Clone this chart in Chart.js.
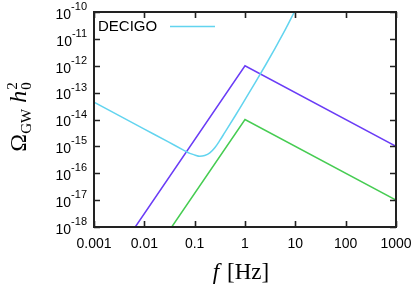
<!DOCTYPE html>
<html>
<head>
<meta charset="utf-8">
<script src="https://cdn.jsdelivr.net/npm/chart.js@4.4.1/dist/chart.umd.min.js"></script>
<style>
  html, body { margin: 0; padding: 0; background: #fff; }
  canvas { display: block; }
</style>
</head>
<body>
<canvas id="chart" width="416" height="289"></canvas>
<script>
// Axis ticks (log-log, decades only)
const xTicks = [0.001, 0.01, 0.1, 1, 10, 100, 1000];
const xTickLabels = ['0.001', '0.01', '0.1', '1', '10', '100', '1000'];
const yTicks = [1e-18, 1e-17, 1e-16, 1e-15, 1e-14, 1e-13, 1e-12, 1e-11, 1e-10];
const yTickExponents = ['-18', '-17', '-16', '-15', '-14', '-13', '-12', '-11', '-10'];

// DECIGO sensitivity curve
const decigoFreq  = [0.001, 0.01, 0.03, 0.06, 0.08, 0.1, 0.126, 0.158, 0.2, 0.251, 0.316, 0.398, 0.631, 1.0, 1.585, 2.512, 3.981, 6.31, 9.55];
const decigoOmega = [4.4e-14, 4.4e-15, 1.47e-15, 7.3e-16, 5.5e-16, 4.8e-16, 4.27e-16, 4.57e-16, 5.75e-16, 8.9e-16, 1.66e-15, 3.31e-15, 1.32e-14, 5.5e-14, 2.29e-13, 1.0e-12, 4.57e-12, 2.19e-11, 1.0e-10];

// Broken power-law spectra (upper and lower)
const upperFreq  = [0.0066, 1, 1000];
const upperOmega = [1e-18, 1e-12, 1e-15];
const lowerFreq  = [0.035, 1, 1000];
const lowerOmega = [1e-18, 1e-14, 1e-17];

const legendLabel = 'DECIGO';

const CYAN = '#62d4ef';
const PURPLE = '#6a3cf6';
const GREEN = '#46cc52';
const AXIS = '#222';

function toPoints(xs, ys) {
  return xs.map((x, i) => ({ x, y: ys[i] }));
}

// gnuplot-like frame, inward ticks, labels, legend and titles
const framePlugin = {
  id: 'frame',
  afterDraw(chart) {
    const { ctx, chartArea: a, scales } = chart;
    const xs = scales.x, ys = scales.y;
    const tick = 6;

    ctx.save();
    ctx.strokeStyle = AXIS;
    ctx.lineWidth = 2;
    ctx.strokeRect(a.left, a.top, a.right - a.left, a.bottom - a.top);

    ctx.lineWidth = 1.6;
    ctx.beginPath();
    xTicks.forEach(v => {
      const px = Math.round(xs.getPixelForValue(v)) + 0.5;
      ctx.moveTo(px, a.bottom); ctx.lineTo(px, a.bottom - tick);
      ctx.moveTo(px, a.top); ctx.lineTo(px, a.top + tick);
    });
    yTicks.forEach(v => {
      const py = Math.round(ys.getPixelForValue(v)) + 0.5;
      ctx.moveTo(a.left, py); ctx.lineTo(a.left + tick, py);
      ctx.moveTo(a.right, py); ctx.lineTo(a.right - tick, py);
    });
    ctx.stroke();

    // x tick labels
    ctx.fillStyle = '#000';
    ctx.font = '14px "Liberation Sans", Arial, sans-serif';
    ctx.textAlign = 'center';
    ctx.textBaseline = 'middle';
    xTicks.forEach((v, i) => {
      ctx.fillText(xTickLabels[i], xs.getPixelForValue(v), a.bottom + 17);
    });

    // y tick labels: 10 with superscript exponent
    yTicks.forEach((v, i) => {
      const py = ys.getPixelForValue(v);
      ctx.font = '11px "Liberation Sans", Arial, sans-serif';
      ctx.textAlign = 'right';
      ctx.textBaseline = 'middle';
      const expW = ctx.measureText(yTickExponents[i]).width;
      ctx.fillText(yTickExponents[i], a.left - 7, py - 5);
      ctx.font = '14px "Liberation Sans", Arial, sans-serif';
      ctx.fillText('10', a.left - 7 - expW, py + 3);
    });

    // legend: text then line sample
    ctx.font = '15px "Liberation Sans", Arial, sans-serif';
    ctx.textAlign = 'left';
    ctx.textBaseline = 'middle';
    ctx.fillText(legendLabel, a.left + 4, a.top + 15);
    ctx.strokeStyle = CYAN;
    ctx.lineWidth = 1.5;
    ctx.beginPath();
    ctx.moveTo(a.left + 76, a.top + 14.5);
    ctx.lineTo(a.left + 121, a.top + 14.5);
    ctx.stroke();

    // x title: f [Hz]
    const serif = '"Liberation Serif", "DejaVu Serif", serif';
    ctx.fillStyle = '#000';
    ctx.textBaseline = 'alphabetic';
    ctx.textAlign = 'left';
    ctx.font = 'italic 23px ' + serif;
    const fW = ctx.measureText('f').width;
    ctx.font = '23px ' + serif;
    const restW = ctx.measureText(' [Hz]').width;
    let x0 = (a.left + a.right) / 2 - 5 - (fW + restW) / 2;
    ctx.font = 'italic 23px ' + serif;
    ctx.fillText('f', x0, 279);
    ctx.font = '23px ' + serif;
    ctx.fillText(' [Hz]', x0 + fW + 2, 279);

    // y title: Omega_GW h_0^2, rotated
    const parts = [
      { t: '\u03A9', f: '24px ' + serif, dy: 0 },
      { t: 'GW', f: '15px ' + serif, dy: 5 },
      { t: ' ', f: '24px ' + serif, dy: 0 },
      { t: 'h', f: 'italic 24px ' + serif, dy: 0 }
    ];
    let total = 0;
    parts.forEach(p => { ctx.font = p.f; p.w = ctx.measureText(p.t).width; total += p.w; });
    ctx.font = '15px ' + serif;
    const scriptW = ctx.measureText('2').width;
    total += scriptW + 1;

    ctx.translate(26, 117);
    ctx.rotate(-Math.PI / 2);
    let cx = -total / 2;
    parts.forEach(p => {
      ctx.font = p.f;
      ctx.fillText(p.t, cx, p.dy);
      cx += p.w;
    });
    ctx.font = '15px ' + serif;
    ctx.fillText('2', cx + 1, -9);
    ctx.fillText('0', cx + 1, 5);
    ctx.restore();
  }
};

new Chart(document.getElementById('chart'), {
  type: 'line',
  data: {
    datasets: [
      {
        label: legendLabel,
        data: toPoints(decigoFreq, decigoOmega),
        borderColor: CYAN,
        borderWidth: 1.5,
        pointRadius: 0,
        cubicInterpolationMode: 'monotone',
        fill: false
      },
      {
        label: 'upper',
        data: toPoints(upperFreq, upperOmega),
        borderColor: PURPLE,
        borderWidth: 1.5,
        pointRadius: 0,
        tension: 0,
        fill: false
      },
      {
        label: 'lower',
        data: toPoints(lowerFreq, lowerOmega),
        borderColor: GREEN,
        borderWidth: 1.5,
        pointRadius: 0,
        tension: 0,
        fill: false
      }
    ]
  },
  options: {
    responsive: false,
    animation: false,
    devicePixelRatio: 1,
    layout: { padding: { left: 94, top: 12, right: 20, bottom: 62 } },
    plugins: {
      legend: { display: false },
      tooltip: { enabled: false }
    },
    scales: {
      x: { type: 'logarithmic', min: 0.001, max: 1000, display: false },
      y: { type: 'logarithmic', min: 1e-18, max: 1e-10, display: false }
    }
  },
  plugins: [framePlugin]
});
</script>
</body>
</html>
